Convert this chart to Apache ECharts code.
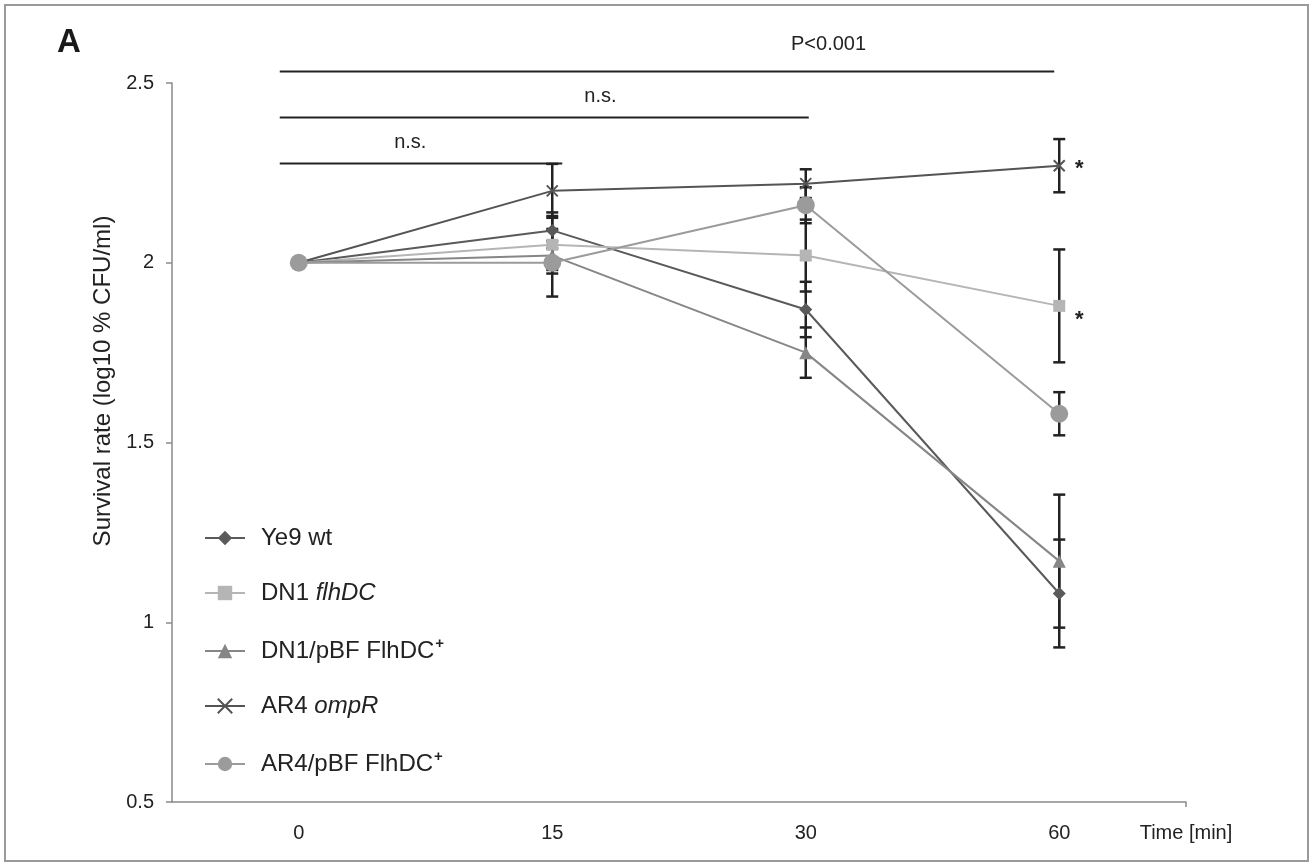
<!DOCTYPE html>
<html>
<head>
<meta charset="utf-8">
<script src="https://cdn.jsdelivr.net/npm/echarts@6/dist/echarts.min.js"></script>
<style>
html,body{margin:0;padding:0;background:#fff;}
#chart{width:1313px;height:862px;}
</style>
</head>
<body>
<div id="chart"></div>
<script>
// ---- data ----
const categories = ['0', '15', '30', '60'];
const seriesNames = ['Ye9 wt', 'DN1 flhDC', 'DN1/pBF FlhDC+', 'AR4 ompR', 'AR4/pBF FlhDC+'];
const ye9 = [2.00, 2.09, 1.87, 1.08];
const dn1 = [2.00, 2.05, 2.02, 1.88];
const dn1pbf = [2.00, 2.02, 1.75, 1.17];
const ar4 = [2.00, 2.20, 2.22, 2.27];
const ar4pbf = [2.00, 2.00, 2.16, 1.58];
const ye9Err = [0, 0.05, 0.077, 0.15];
const dn1Err = [0, 0.08, 0.10, 0.157];
const dn1pbfErr = [0, 0.04, 0.07, 0.185];
const ar4Err = [0, 0.075, 0.04, 0.074];
const ar4pbfErr = [0, 0.094, 0.05, 0.06];
const yTickLabels = ['0.5', '1', '1.5', '2', '2.5'];
// significance bars: [startCategory, endCategory, level, label]
const sigBars = [
  [0, 3, 2.532, 'P<0.001'],
  [0, 2, 2.404, 'n.s.'],
  [0, 1, 2.276, 'n.s.']
];
// stars: [seriesIndex, categoryIndex]
const stars = [[3, 3], [1, 3]];

// ---- style ----
const FONT = 'Liberation Sans, Arial, Helvetica, sans-serif';
const colors = ['#5a5a5a', '#b5b5b5', '#868686', '#545454', '#9b9b9b'];
const symbols = ['diamond', 'rect', 'triangle', 'path://M0,0 L10,10 M10,0 L0,10', 'circle'];
const symbolSizes = [13, 12, 13, 11, 18];
const values = [ye9, dn1, dn1pbf, ar4, ar4pbf];
const errs = [ye9Err, dn1Err, dn1pbfErr, ar4Err, ar4pbfErr];
// label placement for significance bars: [category, fraction to next, px above bar]
const sigLabelPos = [[2, 0.09, 27], [1, 0.19, 21], [0, 0.44, 21]];
const legendFmt = {
  'Ye9 wt': '{n|Ye9 wt}',
  'DN1 flhDC': '{n|DN1 }{i|flhDC}',
  'DN1/pBF FlhDC+': '{n|DN1/pBF FlhDC}{s|+}',
  'AR4 ompR': '{n|AR4 }{i|ompR}',
  'AR4/pBF FlhDC+': '{n|AR4/pBF FlhDC}{s|+}'
};

const errData = [];
values.forEach((vals, si) => {
  vals.forEach((v, ci) => {
    if (errs[si][ci] > 0) errData.push([ci, v, errs[si][ci], si]);
  });
});

const lineSeries = seriesNames.map((name, i) => ({
  name: name,
  type: 'line',
  data: values[i],
  symbol: symbols[i],
  symbolSize: symbolSizes[i],
  z: 3,
  lineStyle: {color: colors[i], width: 2},
  itemStyle: i === 3
    ? {color: colors[i], borderColor: colors[i], borderWidth: 2}
    : {color: colors[i], borderWidth: 0},
  emphasis: {disabled: true}
}));

const chart = echarts.init(document.getElementById('chart'), null, {renderer: 'canvas'});
chart.setOption({
  animation: false,
  backgroundColor: '#fff',
  textStyle: {fontFamily: FONT},
  graphic: [
    {type: 'rect', shape: {x: 5, y: 5, width: 1303, height: 856},
     style: {fill: 'none', stroke: '#9a9a9a', lineWidth: 2}, silent: true},
    {type: 'text', x: 57, y: 43,
     style: {text: 'A', font: 'bold 33px ' + FONT, fill: '#1a1a1a', align: 'left', verticalAlign: 'middle'}},
    {type: 'text', x: 103, y: 381, rotation: Math.PI / 2,
     style: {text: 'Survival rate (log10 % CFU/ml)', font: '24px ' + FONT, fill: '#222',
             align: 'center', verticalAlign: 'middle'}},
    // end tick of the x axis
    {type: 'line', shape: {x1: 1186, y1: 802, x2: 1186, y2: 807},
     style: {stroke: '#8a8a8a', lineWidth: 1.5}, silent: true}
  ],
  grid: {left: 172, right: 127, top: 83, bottom: 60, containLabel: false},
  legend: {
    orient: 'vertical',
    left: 199,
    top: 521,
    itemWidth: 40,
    itemHeight: 18,
    itemGap: 31,
    data: seriesNames,
    formatter: n => legendFmt[n],
    textStyle: {
      color: '#222',
      fontSize: 24,
      fontFamily: FONT,
      rich: {
        n: {fontSize: 24, fontFamily: FONT, color: '#222', lineHeight: 24, padding: [0, 0, 0, 11]},
        i: {fontSize: 24, fontFamily: FONT, color: '#222', fontStyle: 'italic', lineHeight: 24},
        s: {fontSize: 15, fontFamily: FONT, color: '#222', fontWeight: 'bold', lineHeight: 12,
            padding: [0, 0, 12, 1], verticalAlign: 'bottom'}
      }
    },
    selectedMode: false
  },
  xAxis: {
    type: 'category',
    data: categories,
    boundaryGap: true,
    name: 'Time [min]',
    nameLocation: 'end',
    nameGap: 0,
    nameTextStyle: {color: '#222', fontSize: 20, fontFamily: FONT, align: 'center',
                    verticalAlign: 'top', padding: [21, 0, 0, 0]},
    axisLine: {lineStyle: {color: '#8a8a8a', width: 1.5}},
    axisTick: {alignWithLabel: true, length: 5, lineStyle: {color: '#8a8a8a', width: 1.5}},
    axisLabel: {color: '#222', fontSize: 20, fontFamily: FONT, margin: 21},
    splitLine: {show: false}
  },
  yAxis: {
    type: 'value',
    min: 0.5,
    max: 2.5,
    interval: 0.5,
    axisLine: {show: true, lineStyle: {color: '#8a8a8a', width: 1.5}},
    axisTick: {show: true, length: 6, lineStyle: {color: '#8a8a8a', width: 1.5}},
    axisLabel: {color: '#222', fontSize: 20, fontFamily: FONT, margin: 18,
                formatter: v => yTickLabels[Math.round((v - 0.5) / 0.5)]},
    splitLine: {show: false}
  },
  series: [
    {
      type: 'custom',
      name: 'errors',
      z: 2,
      clip: false,
      silent: true,
      data: errData,
      encode: {x: 0, y: 1},
      renderItem: (params, api) => {
        const ci = api.value(0), v = api.value(1), e = api.value(2);
        const top = api.coord([ci, v + e]);
        const bot = api.coord([ci, v - e]);
        const cw = 6;
        const st = {stroke: '#222', lineWidth: 2.5};
        return {type: 'group', children: [
          {type: 'line', shape: {x1: top[0], y1: top[1], x2: bot[0], y2: bot[1]}, style: st},
          {type: 'line', shape: {x1: top[0] - cw, y1: top[1], x2: top[0] + cw, y2: top[1]}, style: st},
          {type: 'line', shape: {x1: bot[0] - cw, y1: bot[1], x2: bot[0] + cw, y2: bot[1]}, style: st}
        ]};
      }
    },
    {
      type: 'custom',
      name: 'sig',
      z: 4,
      clip: false,
      silent: true,
      data: sigBars.map((b, i) => [b[0], b[2], b[1], i]),
      encode: {x: 0, y: 1},
      renderItem: (params, api) => {
        const idx = params.dataIndex;
        const b = sigBars[idx];
        const p0 = api.coord([b[0], b[2]]);
        const p1 = api.coord([b[1], b[2]]);
        const endAdj = [-5, 3, 10][idx];
        const lp = sigLabelPos[idx];
        const a = api.coord([lp[0], b[2]]);
        const c = api.coord([Math.min(lp[0] + 1, 3), b[2]]);
        const lx = a[0] + lp[1] * (c[0] - a[0]);
        return {type: 'group', children: [
          {type: 'line', shape: {x1: p0[0] - 19, y1: p0[1], x2: p1[0] + endAdj, y2: p1[1]},
           style: {stroke: '#222', lineWidth: 2}},
          {type: 'text', x: lx, y: p0[1] - lp[2],
           style: {text: b[3], font: '20px ' + FONT, fill: '#222', align: 'center', verticalAlign: 'middle'}}
        ]};
      }
    },
    {
      type: 'custom',
      name: 'stars',
      z: 4,
      clip: false,
      silent: true,
      data: stars.map(s => [s[1], values[s[0]][s[1]]]),
      encode: {x: 0, y: 1},
      renderItem: (params, api) => {
        const p = api.coord([api.value(0), api.value(1)]);
        const dy = params.dataIndex === 1 ? 14 : 3;
        return {type: 'text', x: p[0] + 20, y: p[1] + dy,
                style: {text: '*', font: 'bold 22px ' + FONT, fill: '#222', align: 'center', verticalAlign: 'middle'}};
      }
    }
  ].concat(lineSeries)
});
</script>
</body>
</html>
